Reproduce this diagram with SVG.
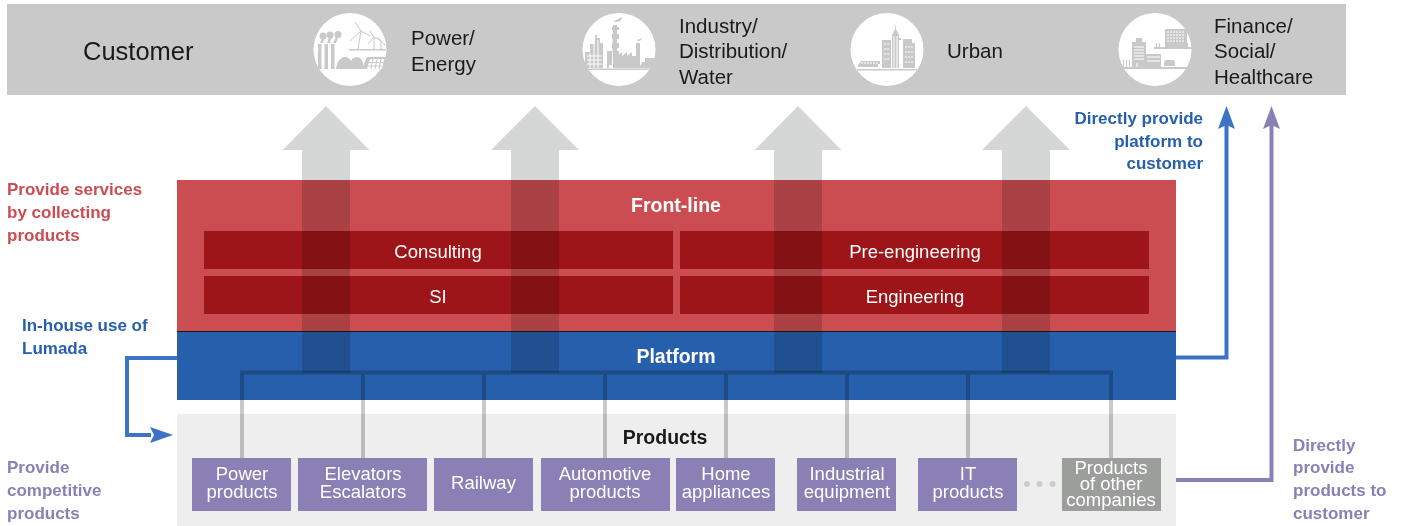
<svg xmlns="http://www.w3.org/2000/svg" width="1409" height="526" viewBox="0 0 1409 526">
<defs>
<style>
text{font-family:"Liberation Sans",Arial,sans-serif}
.w{fill:#fff;font-size:18.5px;text-anchor:middle}
.p{fill:#fff;font-size:18.5px;text-anchor:middle}
.k{fill:#1a1a1a;font-size:20.5px}
.lb{font-size:17px;font-weight:bold;fill:#265fab}
.lr{font-size:17px;font-weight:bold;fill:#cb4d52}
.lp{font-size:17px;font-weight:bold;fill:#8a80b5}
.ib{fill:#cb... }
.inner{fill:#9e1519}
.prod{fill:#8a80b5}
.ic{fill:#c8c9c8}
.il{stroke:#c8c9c8;fill:none;stroke-width:1}
.wl{stroke:#fff;fill:none;stroke-width:1}
.up{fill:#d5d7d6;mix-blend-mode:multiply}
.tr{stroke:#c8c9c8;stroke-width:4;fill:none;mix-blend-mode:multiply}
</style>
<marker id="mb" markerUnits="userSpaceOnUse" markerWidth="24" markerHeight="18" refX="23" refY="9" orient="auto"><path d="M0 1L23 9L0 17L4 9Z" fill="#3d73c7"/></marker>
</defs>
<rect width="1409" height="526" fill="#fff"/>
<g id="customer">
<rect x="7" y="4" width="1339" height="91" fill="#c8c9c8"/>
<text x="83" y="60" font-size="25.5" fill="#1a1a1a">Customer</text>
</g>
<g id="power-energy">
<circle cx="350" cy="49.5" r="36.5" fill="#fff"/>
<path class="ic" d="M318 44h3.500v25h-3.500zM324.500 44h3.500v25h-3.500zM331 44h3.500v25h-3.500z"/>
<circle class="ic" cx="323" cy="36" r="3.500"/><circle class="ic" cx="330" cy="35" r="3.500"/><circle class="ic" cx="338" cy="34.500" r="3.500"/>
<path class="ic" d="M320 43l3-7 2 0-2 7zM327 43l3-8 2 0-2 8zM333 43l4-8 2 0-3 8z"/>
<path class="ic" d="M316 69h20c1-9 6-12 9-12 3 0 5 2 6 4 1-3 4-4 6-4 3 0 5 3 6 6l0 3 4-9h18.500l0 10-1 2h-68.500z"/>
<path class="ic" d="M349 49h37v1.500h-37z"/>
<path class="il" d="M358 49L361 31M361 31L355 22M361 31L370 36M361 31L350 41M374 49V37M374 37L370 31M374 37L381 41M374 37L368 44M381 49V41M381 41L378 37M381 41L385 45"/>
<path d="M367 69l3-10h14l-2 10z" fill="#fff"/>
<path class="il" d="M369 62.500h14M368 66h14M373 59l-2 10M377 59l-2 10M381 59l-2 10"/>
<text class="k" x="411" y="45">Power/</text><text class="k" x="411" y="71">Energy</text>
</g>
<g id="industry">
<circle cx="619" cy="49.500" r="36.500" fill="#fff"/>
<path class="ic" d="M584 68.500h70v1.500h-70z"/>
<path class="ic" d="M595 35h2v3h3v5h3v25h-18v-16h5v-8h5z"/>
<g class="wl"><path d="M587 56h15M587 60h15M587 64h15M590 53v15M594 40v28M598 40v28"/></g>
<path class="ic" d="M613 25h4v43h-8v-3h3zM607 51l0 17h8V51z"/>
<path class="ic" d="M612 27h7v3h-7zM612 34h7v5h-7zM612 43h7v5h-7zM613 51h6v17h-6zM617 56l5-4v4l5-4v4l5-4v4l4 0 V43h4v25h-23z"/>
<path class="ic" d="M614 22c2-3 5-3 8-5l-1 3c-2 2-4 2-7 2zM637 41c1-2 3-2 5-3l-1 2c-1 1-2 1-4 1z"/>
<path class="ic" d="M640 68v-2l2-4h3v-4h9v10z"/>
<text class="k" x="679" y="33">Industry/</text><text class="k" x="679" y="58">Distribution/</text><text class="k" x="679" y="84">Water</text>
</g>
<g id="urban">
<circle cx="887" cy="49.500" r="36.500" fill="#fff"/>
<path class="ic" d="M857 69h60v1.500h-60z"/>
<path class="ic" d="M882 40h8v28h-8zM896 38h5v2h-5v28z"/>
<path class="ic" d="M892 35l3-6 .5-7 .5 7 3 6v33h-7zM903 39h9v4h3v25h-12zM882 40h9v28h-9z"/>
<g class="wl" stroke-dasharray="2 1"><path d="M884 44h5M884 49h5M884 54h5M884 59h5M905 47h8M905 52h8M905 57h8M905 62h8"/></g>
<path d="M894 36v32M897 36v32" class="wl"/>
<path class="ic" d="M858 65l3-4h19v3h-2v3h-20z"/>
<path class="wl" stroke-dasharray="2 1" d="M861 63h18"/>
<text class="k" x="947" y="58">Urban</text>
</g>
<g id="finance">
<circle cx="1155" cy="49.500" r="36.500" fill="#fff"/>
<path class="ic" d="M1122 67h66v2h-66z"/>
<path class="ic" d="M1165 29h22v18h-22zM1154 47h38v2h-38z"/>
<path class="wl" stroke-dasharray="2 1" d="M1167 32h18M1167 35h18M1167 38h18M1167 41h18"/>
<path class="ic" d="M1156 43h1v4h-1zM1159 43h1v4h-1zM1187 43h1v4h-1z"/>
<path class="ic" d="M1132 42h4v-4h6v4h4v27h-14zM1146 54h15v13h-15z"/>
<path class="wl" d="M1134 47h10M1134 50h10M1134 53h10M1134 56h10M1134 59h10M1147 57h13M1147 61h13M1137 63v4"/>
<path class="ic" d="M1123 60h1v7h-1zM1126 60h1v7h-1zM1129 60h1v7h-1zM1165 60h9l1 3v3h-11v-3z"/>
<text class="k" x="1214" y="33">Finance/</text><text class="k" x="1214" y="58">Social/</text><text class="k" x="1214" y="84">Healthcare</text>
</g>
<g id="front-line">
<rect x="177" y="180" width="999" height="151" fill="#cb4d52"/>
<text class="w" x="676" y="212" font-size="19.500" style="font-size:19.500px;font-weight:bold">Front-line</text>
</g>
<g id="consulting"><rect class="inner" x="204" y="231" width="469" height="38"/><text class="w" x="438" y="258">Consulting</text></g>
<g id="pre-engineering"><rect class="inner" x="680" y="231" width="469" height="38"/><text class="w" x="915" y="258">Pre-engineering</text></g>
<g id="si"><rect class="inner" x="204" y="276" width="469" height="38"/><text class="w" x="438" y="303">SI</text></g>
<g id="engineering"><rect class="inner" x="680" y="276" width="469" height="38"/><text class="w" x="915" y="303">Engineering</text></g>
<g id="platform">
<rect x="177" y="331" width="999" height="1" fill="#1a1a1a"/>
<rect x="177" y="332" width="999" height="68" fill="#265fab"/>
<text class="w" x="676" y="363" style="font-size:19.500px;font-weight:bold">Platform</text>
</g>
<g id="products">
<rect x="177" y="414" width="999" height="112" fill="#eee"/>
<text x="665" y="444" font-size="19.500" font-weight="bold" fill="#1a1a1a" text-anchor="middle">Products</text>
<circle cx="1027" cy="484" r="3" fill="#ccc"/><circle cx="1039.500" cy="484" r="3" fill="#ccc"/><circle cx="1052.500" cy="484" r="3" fill="#ccc"/>
</g>
<g id="connectors">
<path class="up" d="M326 106L369.500 150H350V373H302V150H282.500Z"/>
<path class="up" d="M535 106L579 150H559V373H511V150H491Z"/>
<path class="up" d="M798 106L841.500 150H822V373H774V150H754.500Z"/>
<path class="up" d="M1026 106L1070 150H1050V373H1002V150H982Z"/>
<path class="tr" d="M242 458V372.500H1111V458M363 372.500V458M484 372.500V458M605 372.500V458M726 372.500V458M847 372.500V458M968 372.500V458"/>
<path d="M177 358H127V435H151" fill="none" stroke="#3d73c7" stroke-width="4" />
<path d="M173 435L150 427L154 435L150 443Z" fill="#3d73c7"/>
<path d="M1176 357.500H1226.500V125" fill="none" stroke="#3d73c7" stroke-width="4"/>
<path d="M1226.500 106L1235 129L1226.500 125L1218 129Z" fill="#3d73c7"/>
<path d="M1176 480H1271.500V125" fill="none" stroke="#8a80b5" stroke-width="4"/>
<path d="M1271.500 106L1280 129L1271.500 125L1263 129Z" fill="#8a80b5"/>
</g>
<g id="p1"><rect class="prod" x="192" y="458" width="99" height="53"/><text class="p" x="242" y="480">Power</text><text class="p" x="242" y="498">products</text></g>
<g id="p2"><rect class="prod" x="298" y="458" width="129" height="53"/><text class="p" x="363" y="480">Elevators</text><text class="p" x="363" y="498">Escalators</text></g>
<g id="p3"><rect class="prod" x="434" y="458" width="99" height="53"/><text class="p" x="483.500" y="489">Railway</text></g>
<g id="p4"><rect class="prod" x="541" y="458" width="129" height="53"/><text class="p" x="605" y="480">Automotive</text><text class="p" x="605" y="498">products</text></g>
<g id="p5"><rect class="prod" x="676" y="458" width="99" height="53"/><text class="p" x="726" y="480">Home</text><text class="p" x="726" y="498">appliances</text></g>
<g id="p6"><rect class="prod" x="797" y="458" width="99" height="53"/><text class="p" x="847" y="480">Industrial</text><text class="p" x="847" y="498">equipment</text></g>
<g id="p7"><rect class="prod" x="918" y="458" width="99" height="53"/><text class="p" x="968" y="480">IT</text><text class="p" x="968" y="498">products</text></g>
<g id="p8"><rect x="1062" y="458" width="99" height="53" fill="#9c9e9c"/><text class="p" x="1111" y="474">Products</text><text class="p" x="1111" y="490">of other</text><text class="p" x="1111" y="506">companies</text></g>
<g id="labels">
<text class="lr" x="7" y="195">Provide services</text><text class="lr" x="7" y="218">by collecting</text><text class="lr" x="7" y="241">products</text>
<text class="lb" x="22" y="331">In-house use of</text><text class="lb" x="22" y="354">Lumada</text>
<text class="lp" x="7" y="473">Provide</text><text class="lp" x="7" y="496">competitive</text><text class="lp" x="7" y="519">products</text>
<text class="lb" x="1203" y="124" text-anchor="end">Directly provide</text><text class="lb" x="1203" y="147" text-anchor="end">platform to</text><text class="lb" x="1203" y="169" text-anchor="end">customer</text>
<text class="lp" x="1293" y="451">Directly</text><text class="lp" x="1293" y="473">provide</text><text class="lp" x="1293" y="496">products to</text><text class="lp" x="1293" y="519">customer</text>
</g>
</svg>
